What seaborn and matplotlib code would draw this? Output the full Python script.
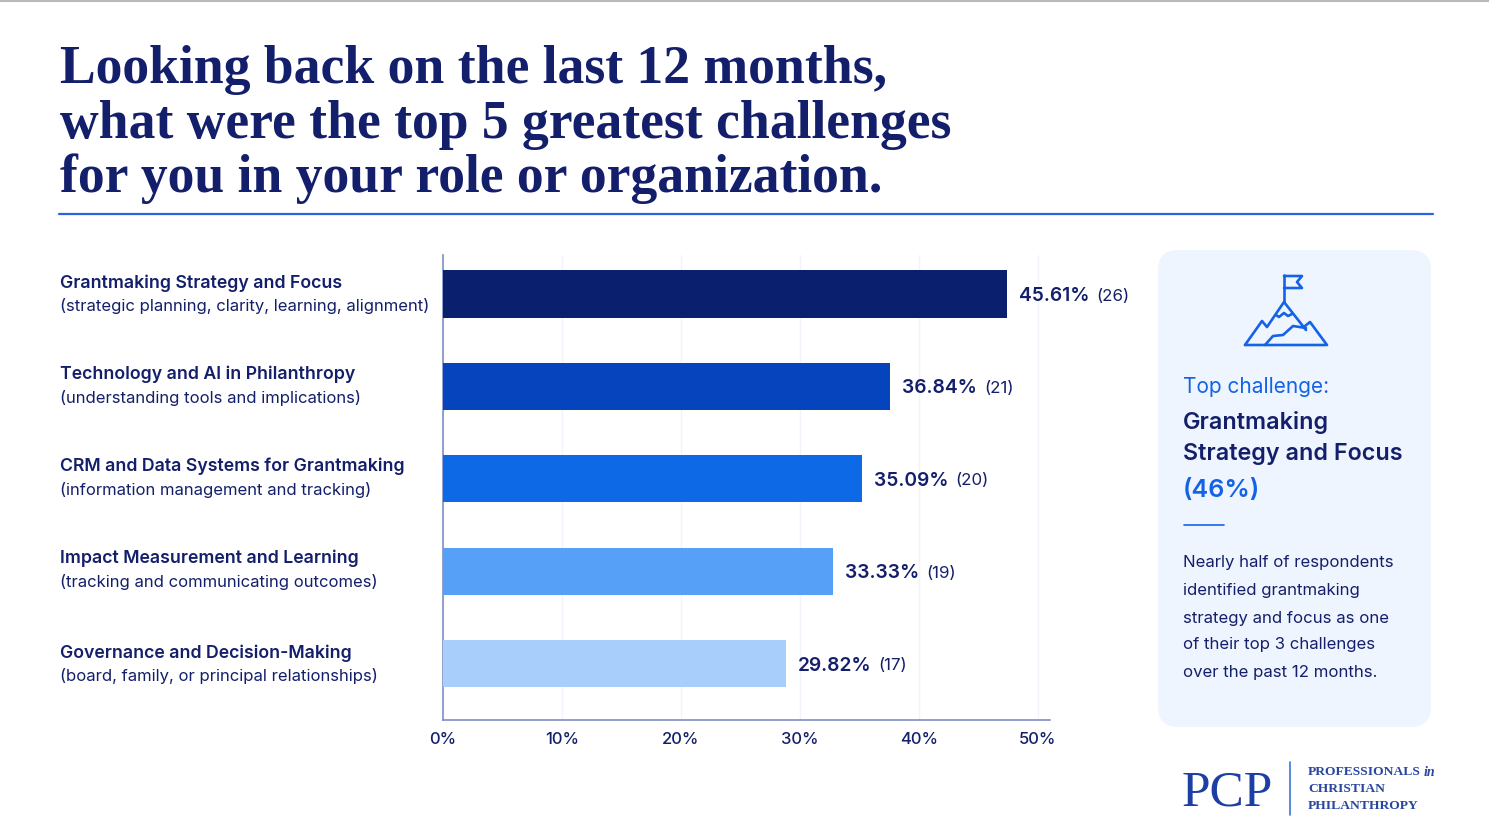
import matplotlib

matplotlib.use("Agg")
import matplotlib.pyplot as plt
import pandas as pd
import seaborn as sns
from matplotlib.patches import FancyBboxPatch

W, H = 1489, 835

NAVY = "#141f6b"
BLUE = "#1463e6"

title_lines = [
    "Looking back on the last 12 months,",
    "what were the top 5 greatest challenges",
    "for you in your role or organization.",
]
categories = [
    "Grantmaking Strategy and Focus",
    "Technology and AI in Philanthropy",
    "CRM and Data Systems for Grantmaking",
    "Impact Measurement and Learning",
    "Governance and Decision-Making",
]
subtitles = [
    "(strategic planning, clarity, learning, alignment)",
    "(understanding tools and implications)",
    "(information management and tracking)",
    "(tracking and communicating outcomes)",
    "(board, family, or principal relationships)",
]
# printed percentages and counts
pct_labels = ["45.61%", "36.84%", "35.09%", "33.33%", "29.82%"]
counts = [26, 21, 20, 19, 17]
# bar lengths as drawn against the axis: they don't quite agree with the printed labels
drawn_lengths = [47.4, 37.6, 35.2, 32.8, 28.8]
bar_colors = ["#0a1f6e", "#0544bd", "#0d69e6", "#56a0f8", "#a8cffc"]
x_ticks = [0, 10, 20, 30, 40, 50]
panel_body = [
    "Nearly half of respondents",
    "identified grantmaking",
    "strategy and focus as one",
    "of their top 3 challenges",
    "over the past 12 months.",
]

sns.set_theme(style="white")
plt.rcParams["font.family"] = ["Inter", "DejaVu Sans"]

fig = plt.figure(figsize=(W / 100, H / 100), dpi=100, facecolor="white")

# full-figure layer in pixel coordinates for the text, panel, icon and logo
bg = fig.add_axes([0, 0, 1, 1])
bg.set_xlim(0, W)
bg.set_ylim(H, 0)
bg.axis("off")

bg.plot([0, W], [0.5, 0.5], color="#b9b9b9", lw=1.5)

for y, line in zip([64, 119, 173], title_lines):
    bg.text(60, y, line, family="Liberation Serif", weight="bold", fontsize=38.6,
            color=NAVY, va="center_baseline", ha="left")
bg.plot([59, 1433], [213.5, 213.5], color="#2a62e4", lw=1.6)

# category labels
for y, cat, sub in zip([283, 374, 466, 558, 653], categories, subtitles):
    bg.text(60, y, cat, fontsize=12.75, weight="semibold", color=NAVY, va="center")
    bg.text(60, y + 23.5, sub, fontsize=12, color=NAVY, va="center")

# side panel
bg.add_patch(FancyBboxPatch((1176, 268), 237, 441, boxstyle="round,pad=18,rounding_size=20",
                            fc="#eff5fe", ec="none"))

# mountain icon
icon_paths = [
    ([1284, 1284], [302, 275]),
    ([1284, 1302, 1297, 1302, 1284], [276, 276, 282, 288, 288]),
    ([1245, 1262, 1267, 1284, 1306], [345, 321, 327, 302, 330]),
    ([1305, 1310, 1327, 1245], [326, 322, 345, 345]),
    ([1276, 1279, 1284, 1288, 1292], [315, 317, 313, 316, 314]),
    ([1265, 1273, 1283, 1293, 1306], [345, 336, 335, 326, 328]),
]
for xs, ys in icon_paths:
    bg.plot(xs, ys, color=BLUE, lw=1.9, solid_joinstyle="round", solid_capstyle="round")

bg.text(1183, 387, "Top challenge:", fontsize=15, color=BLUE, va="center")
bg.text(1183, 422, "Grantmaking", fontsize=16.8, weight="semibold", color=NAVY, va="center")
bg.text(1183, 454, "Strategy and Focus", fontsize=16.8, weight="semibold", color=NAVY, va="center")
bg.text(1183, 490, "(46%)", fontsize=18.2, weight="semibold", color=BLUE, va="center")
bg.plot([1184, 1224], [524.5, 524.5], color=BLUE, lw=1.2)
for y, line in zip([562, 590, 618, 645, 673], panel_body):
    bg.text(1183, y, line, fontsize=12.05, color=NAVY, va="center")

# logo
bg.text(1182, 805, "PCP", family="Liberation Serif", fontsize=37, color="#1c3fa6", va="baseline")
bg.plot([1289.5, 1289.5], [762, 815], color="#3f74dc", lw=1.2)
for y, line in zip([772, 789, 806], ["PROFESSIONALS", "CHRISTIAN", "PHILANTHROPY"]):
    bg.text(1308, y, line, family="Liberation Serif", weight="bold", fontsize=9.7,
            color="#2a47a0", va="center")
bg.text(1424, 772, "in", family="Liberation Serif", weight="bold", style="italic",
        fontsize=10, color="#2a47a0", va="center")

# chart axes: 0% sits at x=443, 11.9 px per percent, bars spaced about 92 px apart
ax = fig.add_axes([443 / W, 1 - 720 / H, 607 / W, 465 / H], facecolor="none")
df = pd.DataFrame({"category": categories, "length": drawn_lengths})
sns.barplot(data=df, y="category", x="length", hue="category", palette=bar_colors,
            legend=False, width=0.51, saturation=1, linewidth=0, ax=ax, zorder=3)
ax.set_xlim(0, 607 / 11.9)
ax.set_ylim(426 / 92.4, -39 / 92.4)
ax.set_xlabel("")
ax.set_ylabel("")
ax.set_yticks([])
ax.set_xticks(x_ticks)
ax.set_xticklabels([f"{t}%" for t in x_ticks], fontsize=12, weight="medium", color=NAVY)
ax.tick_params(axis="x", length=0, pad=9)
ax.grid(axis="x", color="#f1f4fb", lw=1, zorder=0)
sns.despine(ax=ax, top=True, right=True)
for side in ["left", "bottom"]:
    ax.spines[side].set_color("#7f8fc4")
    ax.spines[side].set_linewidth(1.2)

renderer = fig.canvas.get_renderer()
for i, (length, pct, count) in enumerate(zip(drawn_lengths, pct_labels, counts)):
    t = ax.annotate(pct, (length, i), xytext=(8.5, -1.5), textcoords="offset points", fontsize=13.8,
                    weight="semibold", color=NAVY, va="center", annotation_clip=False)
    pct_width = t.get_window_extent(renderer).width * 0.72
    ax.annotate(f"({count})", (length, i), xytext=(8.5 + pct_width + 5, -1.5), textcoords="offset points",
                fontsize=12.2, color=NAVY, va="center", annotation_clip=False)

fig.savefig("out.png", dpi=100)
plt.close(fig)
